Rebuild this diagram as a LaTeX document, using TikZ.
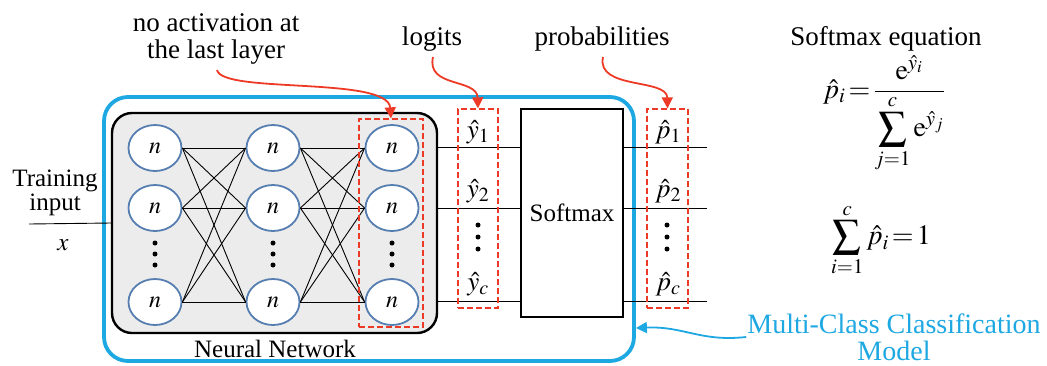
\documentclass[tikz,border=0pt]{standalone}
\usepackage{mathptmx}
\usepackage{fontspec}
\setmainfont{Liberation Serif}
\usetikzlibrary{arrows.meta,shapes.geometric}
\definecolor{modelblue}{RGB}{30,168,226}
\definecolor{markred}{RGB}{236,58,38}
\definecolor{ringblue}{RGB}{86,126,176}
\definecolor{netgray}{RGB}{236,236,236}

\begin{document}
\begin{tikzpicture}[x=1pt,y=-1pt,
    every node/.style={font=\fontsize{25}{28}\selectfont,align=center},
    caption/.style={font=\fontsize{27}{28}\selectfont},
    eqn/.style={font=\fontsize{28}{30}\selectfont,inner sep=0pt},
    neuron/.style={draw=ringblue,line width=1.8pt,fill=white,ellipse,minimum width=53pt,minimum height=46pt,inner sep=0pt,font=\fontsize{24}{28}\selectfont},
    markbox/.style={draw=markred,dash pattern=on 6pt off 3pt,line width=1.3pt,minimum width=#1,minimum height=199pt},
    markarrow/.style={draw=markred,line width=1.8pt,-{Triangle[length=11pt,width=11pt]}},
    wire/.style={line width=0.9pt}]
    \useasboundingbox (0,0) rectangle (1047,365);
    % outer model frame and the network box
    \node[draw=modelblue,line width=3.8pt,rounded corners=24pt,minimum width=530pt,minimum height=264pt] (model) at (369,229) {};
    \node[draw,line width=2.4pt,fill=netgray,rounded corners=20pt,minimum width=325pt,minimum height=220pt] (net) at (274.5,223) {};
    \node (netlabel) at (275,349) {Neural Network};
    % neurons
    \foreach \c/\x in {1/155,2/273,3/392}{
        \foreach \r/\y in {1/148,2/208,3/302}
            \node[neuron] (n\c\r) at (\x,\y) {$n$};
        \foreach \y in {243,254,265}
            \fill (\x,\y) circle (2.5pt);
    }
    \foreach \a/\b in {1/2,2/3}
        \foreach \i in {1,2,3}
            \foreach \j in {1,2,3}
                \draw[wire] (n\a\i.east) -- (n\b\j.west);
    % input
    \coordinate (xin) at (29,224);
    \draw[wire] (xin) -- (net.west);
    \node (train) at (55,193) {Training\\[-4pt]input};
    \node (xlabel) at (63,245) {$x$};
    % softmax block
    \node[draw,line width=1.2pt,minimum width=102pt,minimum height=208pt] (smax) at (572,213) {Softmax};
    \foreach \r/\y in {1/147,2/208,3/301}{
        \coordinate (out\r) at (707,\y);
        \draw[wire] (net.east |- out\r) -- (smax.west |- out\r);
        \draw[wire] (smax.east |- out\r) -- (out\r);
    }
    \node[font=\fontsize{27}{28}\selectfont,inner sep=1pt] (y1) at (478,132) {$\hat{y}_1$};
    \node[font=\fontsize{27}{28}\selectfont,inner sep=1pt] (y2) at (478,191) {$\hat{y}_2$};
    \node[font=\fontsize{27}{28}\selectfont,inner sep=1pt] (yc) at (478,284) {$\hat{y}_c$};
    \node[font=\fontsize{27}{28}\selectfont,inner sep=1pt] (p1) at (668,132) {$\hat{p}_1$};
    \node[font=\fontsize{27}{28}\selectfont,inner sep=1pt] (p2) at (668,191) {$\hat{p}_2$};
    \node[font=\fontsize{27}{28}\selectfont,inner sep=1pt] (pc) at (668,284) {$\hat{p}_c$};
    \foreach \x in {478,667}
        \foreach \y in {225,237,249}
            \fill (\x,\y) circle (2.5pt);
    % dashed marks
    \node[markbox=64pt,minimum height=208pt] (lastbox) at (391,223) {};
    \node[markbox=40pt] (logitbox) at (478,208.5) {};
    \node[markbox=41pt] (probbox) at (667.5,208.5) {};
    % captions and arrows
    \node[caption] (noact) at (216,39) {no activation at\\[-1pt]the last layer};
    \node[caption] (logits) at (432,39) {logits};
    \node[caption] (probs) at (602,39) {probabilities};
    \draw[markarrow] (217,70) .. controls (222,94) and (388,76) .. (lastbox.north);
    \draw[markarrow] (433,57) .. controls (426,88) and (477,78) .. (logitbox.north);
    \draw[markarrow] (603,57) .. controls (596,90) and (667,78) .. (probbox.north);
    % equations
    \node[caption] (eqtitle) at (886,39) {Softmax equation};
    \node[eqn] (eqone) at (884,114) {$\hat{p}_i\!=\!\displaystyle\frac{\mathrm{e}^{\hat{y}_i}}{\displaystyle\sum_{j=1}^{c}\mathrm{e}^{\hat{y}_j}}$};
    \node[eqn] (eqtwo) at (881,240) {$\displaystyle\sum_{i=1}^{c}\hat{p}_i\!=\!1$};
    \node[text=modelblue,font=\fontsize{28}{27}\selectfont,inner sep=1pt] (mcm) at (894,337) {Multi-Class Classification\\Model};
    \draw[modelblue,line width=1.8pt,-{Triangle[length=11pt,width=11pt]}] (mcm.west) .. controls (700,342) and (684,326) .. (model.east |- 0,328);
\end{tikzpicture}
\end{document}
